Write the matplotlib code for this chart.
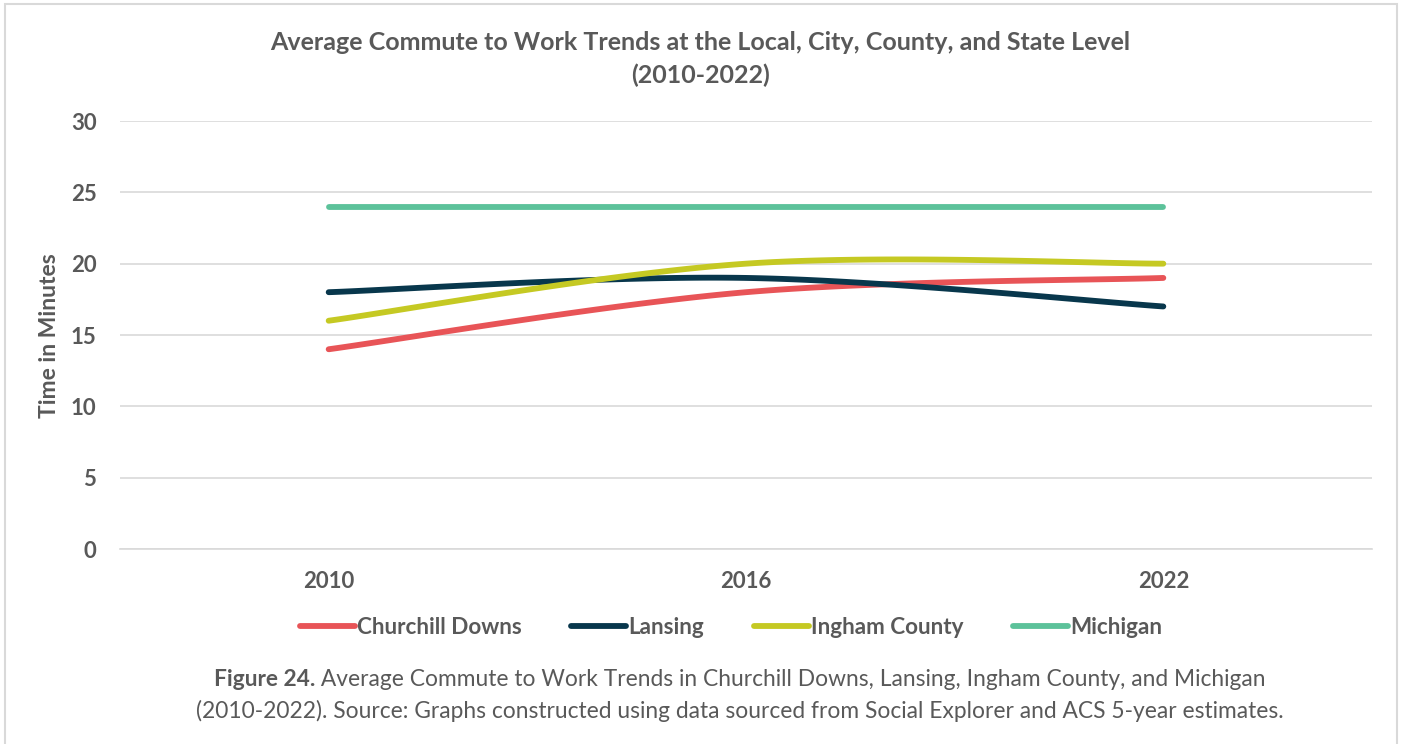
import numpy as np
import matplotlib
matplotlib.use("Agg")
import matplotlib.pyplot as plt
from matplotlib.patches import Rectangle

plt.rcParams['font.family'] = ['Lato', 'DejaVu Sans']

years = ["2010", "2016", "2022"]
churchill_downs = [14, 18, 19]
lansing = [18, 19, 17]
ingham_county = [16, 20, 20]
michigan = [24, 24, 24]

series_names = ["Churchill Downs", "Lansing", "Ingham County", "Michigan"]
series_values = [churchill_downs, lansing, ingham_county, michigan]
series_colors = ["#E85457", "#08374C", "#C5C923", "#5CC29A"]

TEXT = "#595959"


def smooth_curve(xs, ys, n=60):
    """Cubic Bezier smoothing through the points (tension 1/6, like office charts)."""
    pts = np.column_stack([xs, ys]).astype(float)
    out = []
    for i in range(len(pts) - 1):
        p0 = pts[i - 1] if i > 0 else pts[i]
        p1 = pts[i]
        p2 = pts[i + 1]
        p3 = pts[i + 2] if i + 2 < len(pts) else pts[i + 1]
        c1 = p1 + (p2 - p0) / 6.0
        c2 = p2 - (p3 - p1) / 6.0
        t = np.linspace(0, 1, n)[:, None]
        seg = ((1 - t) ** 3) * p1 + 3 * ((1 - t) ** 2) * t * c1 \
            + 3 * (1 - t) * t ** 2 * c2 + t ** 3 * p2
        if i > 0:
            seg = seg[1:]
        out.append(seg)
    curve = np.vstack(out)
    return curve[:, 0], curve[:, 1]


fig = plt.figure(figsize=(14.04, 7.44), dpi=100)
fig.patches.append(Rectangle((5 / 1404, -0.01), 1392 / 1404, (744 - 4) / 744 + 0.01,
                             transform=fig.transFigure, fill=False,
                             edgecolor="#D9D9D9", linewidth=1.5))

ax = fig.add_axes([120 / 1404, 195 / 744, 1252 / 1404, 428 / 744])
x = np.arange(len(years))
for name, vals, col in zip(series_names, series_values, series_colors):
    sx, sy = smooth_curve(x, vals)
    ax.plot(sx, sy, color=col, linewidth=4.2, solid_capstyle="round", label=name)

ax.set_xlim(-0.5, len(years) - 0.5)
ax.set_ylim(0, 30)
ax.set_yticks(np.arange(0, 31, 5))
ax.set_xticks(x)
ax.set_xticklabels(years)
ax.grid(axis="y", color="#D9D9D9", linewidth=1.2)
ax.set_axisbelow(True)
for s in ax.spines.values():
    s.set_visible(False)
ax.spines["bottom"].set_visible(True)
ax.spines["bottom"].set_color("#D9D9D9")
ax.spines["bottom"].set_linewidth(1.2)
ax.tick_params(axis="both", length=0, labelsize=16, labelcolor=TEXT)
ax.tick_params(axis="y", pad=17)
ax.tick_params(axis="x", pad=16)
for lbl in ax.get_xticklabels() + ax.get_yticklabels():
    lbl.set_fontweight("bold")
ax.set_ylabel("Time in Minutes", fontsize=16.5, fontweight="bold", color=TEXT)
ax.yaxis.set_label_coords((60 - 120) / 1252, (549 - 336) / 428)

fig.text(700 / 1404, 1 - 42 / 744, "Average Commute to Work Trends at the Local, City, County, and State Level",
         ha="center", va="center", fontsize=18, fontweight="bold", color=TEXT)
fig.text(700 / 1404, 1 - 75 / 744, "(2010-2022)",
         ha="center", va="center", fontsize=18, fontweight="bold", color=TEXT)

leg = fig.legend(loc="center", bbox_to_anchor=(731 / 1404, 1 - 627 / 744), ncol=4,
                 frameon=False, handlelength=2.45, handletextpad=0.1, columnspacing=2.2,
                 prop={"size": 16.2, "weight": "bold"})
for t in leg.get_texts():
    t.set_color(TEXT)

# caption: bold lead-in followed by regular text, both lines centred
cap_size = 16.4
cap_y1 = 1 - 680 / 744
cap_y2 = 1 - 711 / 744
bold_part = fig.text(0, cap_y1, "Figure 24.", ha="left", va="center",
                     fontsize=cap_size, fontweight="bold", color=TEXT)
rest_part = fig.text(0, cap_y1,
                     " Average Commute to Work Trends in Churchill Downs, Lansing, Ingham County, and Michigan",
                     ha="left", va="center", fontsize=cap_size, color=TEXT)
fig.canvas.draw()
r = fig.canvas.get_renderer()
wb = bold_part.get_window_extent(r).width
wr = rest_part.get_window_extent(r).width
x0 = 740 - (wb + wr) / 2
bold_part.set_x(x0 / 1404)
rest_part.set_x((x0 + wb) / 1404)
fig.text(740 / 1404, cap_y2,
         "(2010-2022). Source: Graphs constructed using data sourced from Social Explorer and ACS 5-year estimates.",
         ha="center", va="center", fontsize=cap_size, color=TEXT)

fig.savefig("out.png", dpi=100, facecolor="white")
